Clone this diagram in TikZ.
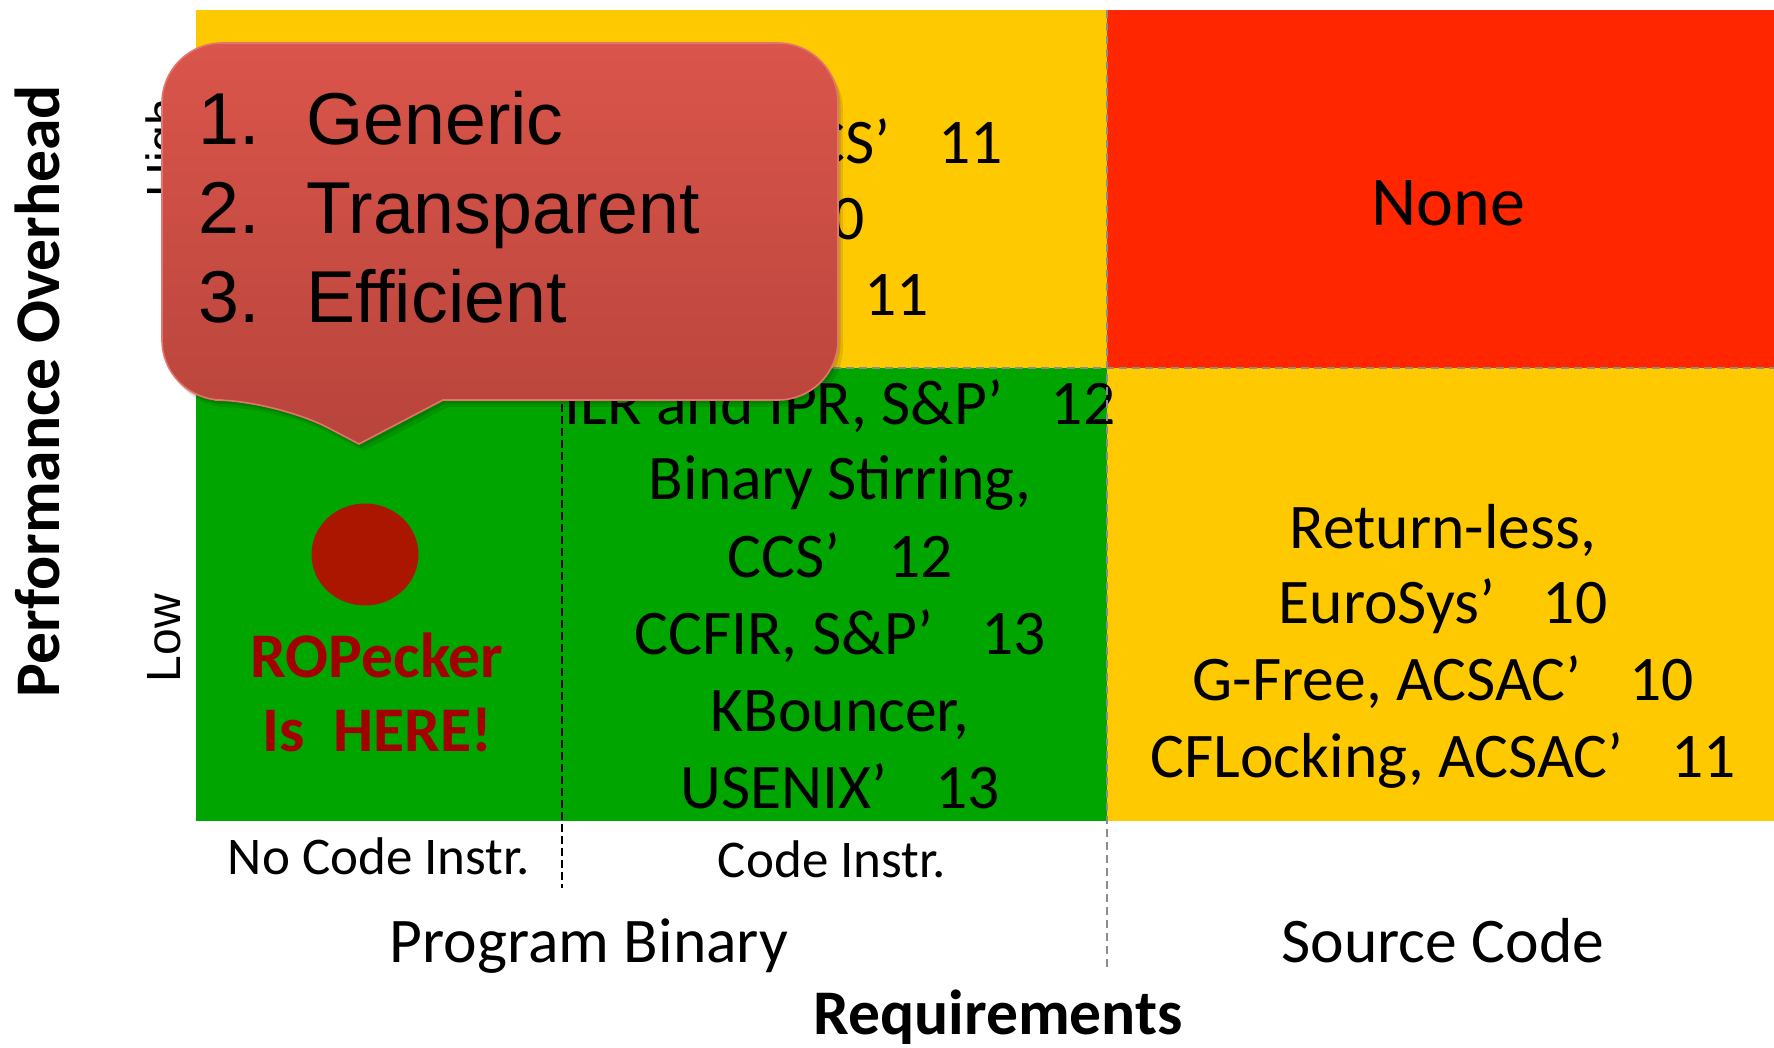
\documentclass[tikz,border=0pt]{standalone}
\usepackage{fontspec}
\setmainfont{Carlito}
\newfontfamily\arialf{Liberation Sans}
\definecolor{yel}{RGB}{255,201,0}
\definecolor{grn}{RGB}{0,165,0}
\definecolor{redq}{RGB}{255,38,0}
\definecolor{dotred}{RGB}{170,22,0}
\definecolor{roptxt}{RGB}{163,0,0}
\definecolor{greydash}{RGB}{140,140,140}
\definecolor{ctop}{RGB}{218,85,75}
\definecolor{cbot}{RGB}{184,68,59}
\definecolor{cedge}{RGB}{226,118,108}
\newcommand\qq{\makebox[1em][l]{’}}
\tikzset{
  celltext/.style={inner sep=0pt, anchor=base, font=\fontsize{31.8}{38}\selectfont},
  smalltext/.style={inner sep=0pt, anchor=base, font=\fontsize{26.5}{32}\selectfont},
  axistitle/.style={inner sep=0pt, anchor=base, font=\bfseries\fontsize{31.8}{38}\selectfont},
  levtext/.style={inner sep=0pt, anchor=base, rotate=90, font=\arialf\fontsize{24}{29}\selectfont},
  calltext/.style={inner sep=0pt, anchor=base west, font=\arialf\fontsize{36.75}{44}\selectfont},
  ropstyle/.style={inner sep=0pt, anchor=base, text=roptxt, font=\bfseries\fontsize{31.8}{38}\selectfont},
  greyline/.style={draw=greydash, line width=1.2pt, dash pattern=on 4pt off 2.5pt},
  blackline/.style={draw=black, line width=0.7pt, dash pattern=on 4pt off 2pt},
}
\begin{document}
\begin{tikzpicture}[x=0.5pt,y=-0.5pt]
\useasboundingbox (0,0) rectangle (1774,1048);
\fill[white] (0,0) rectangle (1774,1048);
% quadrants
\fill[yel] (196,10) rectangle (1107,368);
\fill[redq] (1107,10) rectangle (1774,368);
\fill[grn] (196,368) rectangle (1107,821);
\fill[yel] (1107,368) rectangle (1774,821);

% top-left cell (mostly hidden by the callout)
\node[celltext, anchor=base east] (tl1) at (1003,164) {CCS\qq 11};
\node[celltext, anchor=base east] (tl2) at (865,240) {10};
\node[celltext, anchor=base east] (tl3) at (929,316) {11};

% top-right cell
\node[inner sep=0pt, anchor=base, font=\fontsize{35}{42}\selectfont] (none) at (1448,226) {None};

% green code-instr cell
\node[celltext] (g1) at (840,425) {ILR and IPR, S\&P\qq 12};
\node[celltext] (g2) at (840,499) {Binary Stirring,};
\node[celltext] (g3) at (840,577) {CCS\qq 12};
\node[celltext] (g4) at (840,654) {CCFIR, S\&P\qq 13};
\node[celltext] (g5) at (840,731) {KBouncer,};
\node[celltext] (g6) at (840,808) {USENIX\qq 13};

% bottom-right cell
\node[celltext] (y1) at (1443,548) {Return-less,};
\node[celltext] (y2) at (1443,623) {EuroSys\qq 10};
\node[celltext] (y3) at (1443,700) {G-Free, ACSAC\qq 10};
\node[celltext] (y4) at (1443,777) {CFLocking, ACSAC\qq 11};

% ROPecker
\fill[dotred] (365,554.5) ellipse [x radius=53.5, y radius=51];
\node[ropstyle] (rop1) at (377,677) {ROPecker};
\node[ropstyle] (rop2) at (377,751) {Is\ \ HERE!};

% dashed separators
\coordinate (hL) at (196,368);
\coordinate (hR) at (1774,368);
\coordinate (vT) at (1107,10);
\coordinate (vB) at (1107,970);
\coordinate (bT) at (562,368);
\coordinate (bB) at (562,888);
\draw[greyline] (hL) -- (hR);
\draw[greyline] (vT) -- (vB);
\draw[blackline] (bT) -- (bB);

% axis labels
\node[smalltext] (nci) at (379,874) {No Code Instr.};
\node[smalltext] (ci) at (832,877) {Code Instr.};
\node[celltext] (pb) at (589,962) {Program Binary};
\node[celltext] (sc) at (1443,962) {Source Code};
\node[axistitle] (req) at (998,1034) {Requirements};
\node[axistitle, rotate=90] (po) at (60,391) {Performance Overhead};
\node[levtext] (low) at (180,638) {Low};
\node[levtext] (high) at (180,148) {High};

% callout shadow
\fill[black, opacity=0.10, shift={(5,7)}] (443,400) [rounded corners=30pt] -- (838,400) -- (838,43) -- (162,43) -- (162,400) -- (275,400) [sharp corners] -- (359,444) -- cycle;
\fill[black, opacity=0.12, shift={(2.5,3.5)}] (443,400) [rounded corners=30pt] -- (838,400) -- (838,43) -- (162,43) -- (162,400) -- (275,400) [sharp corners] -- (359,444) -- cycle;
% callout
\path[top color=ctop, bottom color=cbot, draw=cedge, line width=0.8pt] (443,400) [rounded corners=30pt] -- (838,400) -- (838,43) -- (162,43) -- (162,400) -- (275,400) [sharp corners] -- (359,444) -- cycle;
\node[calltext] (n1) at (198,145) {1.};
\node[calltext] (w1) at (306,145) {Generic};
\node[calltext] (n2) at (198,234) {2.};
\node[calltext] (w2) at (306,234) {Transparent};
\node[calltext] (n3) at (198,323) {3.};
\node[calltext] (w3) at (306,323) {Efficient};
\end{tikzpicture}
\end{document}
